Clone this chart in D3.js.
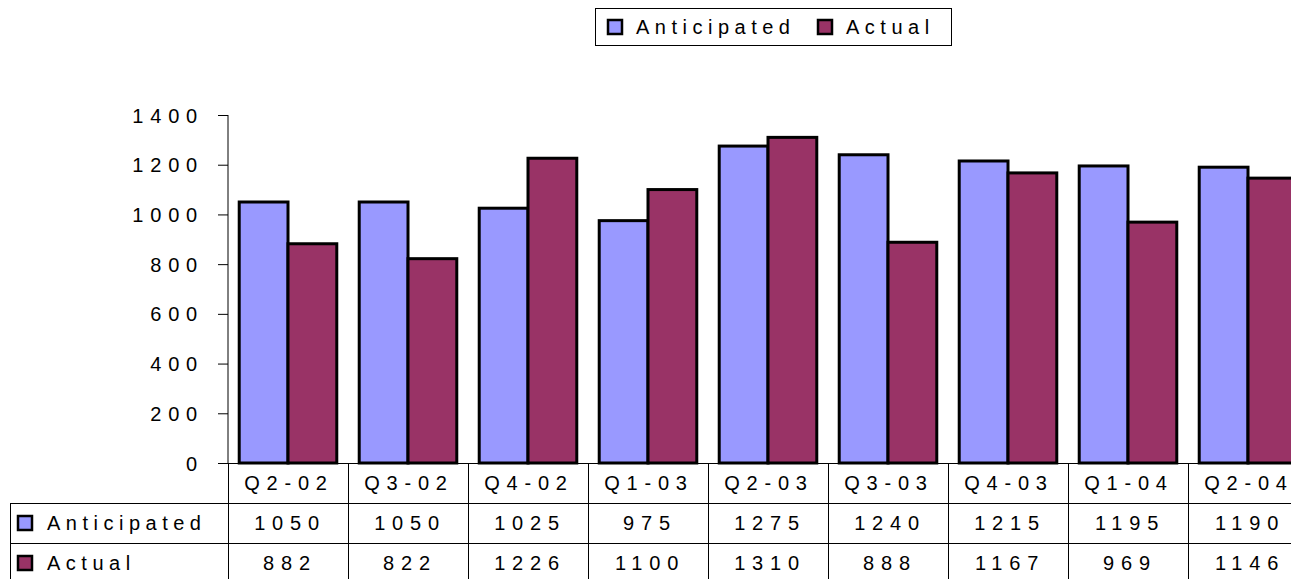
<!DOCTYPE html>
<html>
<head>
<meta charset="utf-8">
<script src="https://cdn.jsdelivr.net/npm/d3@7"></script>
<style>
  body { margin: 0; background: #fff; }
  svg text { font-family: "Liberation Sans", Arial, sans-serif; font-size: 20px; letter-spacing: 5.5px; fill: #000; }
  svg text.num { letter-spacing: 6.8px; }
</style>
</head>
<body>
<div id="chart"></div>
<script>
// chart values
var categories = ["Q2-02", "Q3-02", "Q4-02", "Q1-03", "Q2-03", "Q3-03", "Q4-03", "Q1-04", "Q2-04"];
var seriesNames = ["Anticipated", "Actual"];
var anticipated = [1050, 1050, 1025, 975, 1275, 1240, 1215, 1195, 1190];
var actual = [882, 822, 1226, 1100, 1310, 888, 1167, 969, 1146];
var yTicks = [0, 200, 400, 600, 800, 1000, 1200, 1400];

document.addEventListener('DOMContentLoaded', function() {
    var width = 1291, height = 579;
    var colors = {"Anticipated": "#9999ff", "Actual": "#993366"};
    var values = {"Anticipated": anticipated, "Actual": actual};

    var svg = d3.select("#chart").append("svg")
        .attr("width", width)
        .attr("height", height);

    var plotLeft = 228, plotTop = 115, plotBottom = 463, cellW = 120;
    var tableLeft = 10, rowH = 40;

    // scales
    var x = d3.scaleBand()
        .domain(categories)
        .range([plotLeft, plotLeft + categories.length * cellW])
        .padding(0);
    var xSub = d3.scaleBand()
        .domain(seriesNames)
        .range([0, x.bandwidth()])
        .paddingInner(0)
        .paddingOuter(0.23);
    var y = d3.scaleLinear()
        .domain([0, 1400])
        .range([plotBottom, plotTop]);

    // y axis
    var yAxis = svg.append("g")
        .attr("transform", "translate(" + plotLeft + ",0)")
        .call(d3.axisLeft(y).tickValues(yTicks).tickSize(10).tickPadding(14).tickFormat(d3.format("d")));
    yAxis.select(".domain").attr("stroke", "#000").attr("d", "M0," + y(1400) + "V" + y(0));
    yAxis.selectAll(".tick line").attr("stroke", "#000");
    yAxis.selectAll(".tick text")
        .attr("class", "num")
        .attr("dy", "0.35em");

    // bars
    var groups = svg.selectAll("g.cat")
        .data(categories)
        .enter().append("g")
        .attr("class", "cat")
        .attr("transform", function(d) { return "translate(" + x(d) + ",0)"; });

    groups.selectAll("rect")
        .data(function(d, i) {
            return seriesNames.map(function(s) { return {series: s, value: values[s][i]}; });
        })
        .enter().append("rect")
        .attr("x", function(d) { return xSub(d.series); })
        .attr("y", function(d) { return y(d.value); })
        .attr("width", xSub.bandwidth())
        .attr("height", function(d) { return y(0) - y(d.value); })
        .attr("fill", function(d) { return colors[d.series]; })
        .attr("stroke", "#000")
        .attr("stroke-width", 3);

    // data table lines
    var tableRight = plotLeft + categories.length * cellW;
    var lines = svg.append("g").attr("stroke", "#000").attr("stroke-width", 1);
    lines.append("line")
        .attr("x1", plotLeft - 10).attr("x2", tableRight)
        .attr("y1", plotBottom + 0.5).attr("y2", plotBottom + 0.5);
    [1, 2, 3].forEach(function(r) {
        lines.append("line")
            .attr("x1", tableLeft).attr("x2", tableRight)
            .attr("y1", plotBottom + r * rowH + 0.5).attr("y2", plotBottom + r * rowH + 0.5);
    });
    lines.append("line")
        .attr("x1", tableLeft + 0.5).attr("x2", tableLeft + 0.5)
        .attr("y1", plotBottom + rowH).attr("y2", plotBottom + 3 * rowH);
    categories.concat(["end"]).forEach(function(c, i) {
        var xx = plotLeft + i * cellW + 0.5;
        lines.append("line")
            .attr("x1", xx).attr("x2", xx)
            .attr("y1", plotBottom).attr("y2", plotBottom + 3 * rowH);
    });

    // category labels
    svg.selectAll("text.cat")
        .data(categories)
        .enter().append("text")
        .attr("class", "cat num")
        .attr("x", function(d) { return x(d) + x.bandwidth() / 2 + 1; })
        .attr("y", plotBottom + rowH / 2)
        .attr("dy", "0.35em")
        .attr("text-anchor", "middle")
        .text(function(d) { return d; });

    // value rows
    seriesNames.forEach(function(s, r) {
        var rowY = plotBottom + (r + 1) * rowH;
        svg.append("rect")
            .attr("x", tableLeft + 8).attr("y", rowY + rowH / 2 - 7)
            .attr("width", 14).attr("height", 14)
            .attr("fill", colors[s]).attr("stroke", "#000").attr("stroke-width", 2.5);
        svg.append("text")
            .attr("x", tableLeft + 37)
            .attr("y", rowY + rowH / 2)
            .attr("dy", "0.35em")
            .text(s);
        svg.selectAll("text.v" + r)
            .data(values[s])
            .enter().append("text")
            .attr("class", "num v" + r)
            .attr("x", function(d, i) { return x(categories[i]) + x.bandwidth() / 2 + 2; })
            .attr("y", rowY + rowH / 2)
            .attr("dy", "0.35em")
            .attr("text-anchor", "middle")
            .text(function(d) { return d; });
    });

    // legend
    var legend = svg.append("g");
    legend.append("rect")
        .attr("x", 595.5).attr("y", 8.5)
        .attr("width", 356).attr("height", 37)
        .attr("fill", "#fff").attr("stroke", "#000").attr("stroke-width", 1);
    var legendX = [607, 817];
    seriesNames.forEach(function(s, i) {
        legend.append("rect")
            .attr("x", legendX[i] + 1).attr("y", 20)
            .attr("width", 14).attr("height", 14)
            .attr("fill", colors[s]).attr("stroke", "#000").attr("stroke-width", 2.5);
        legend.append("text")
            .attr("x", legendX[i] + 29)
            .attr("y", 27)
            .attr("dy", "0.35em")
            .text(s);
    });
});
</script>
</body>
</html>
